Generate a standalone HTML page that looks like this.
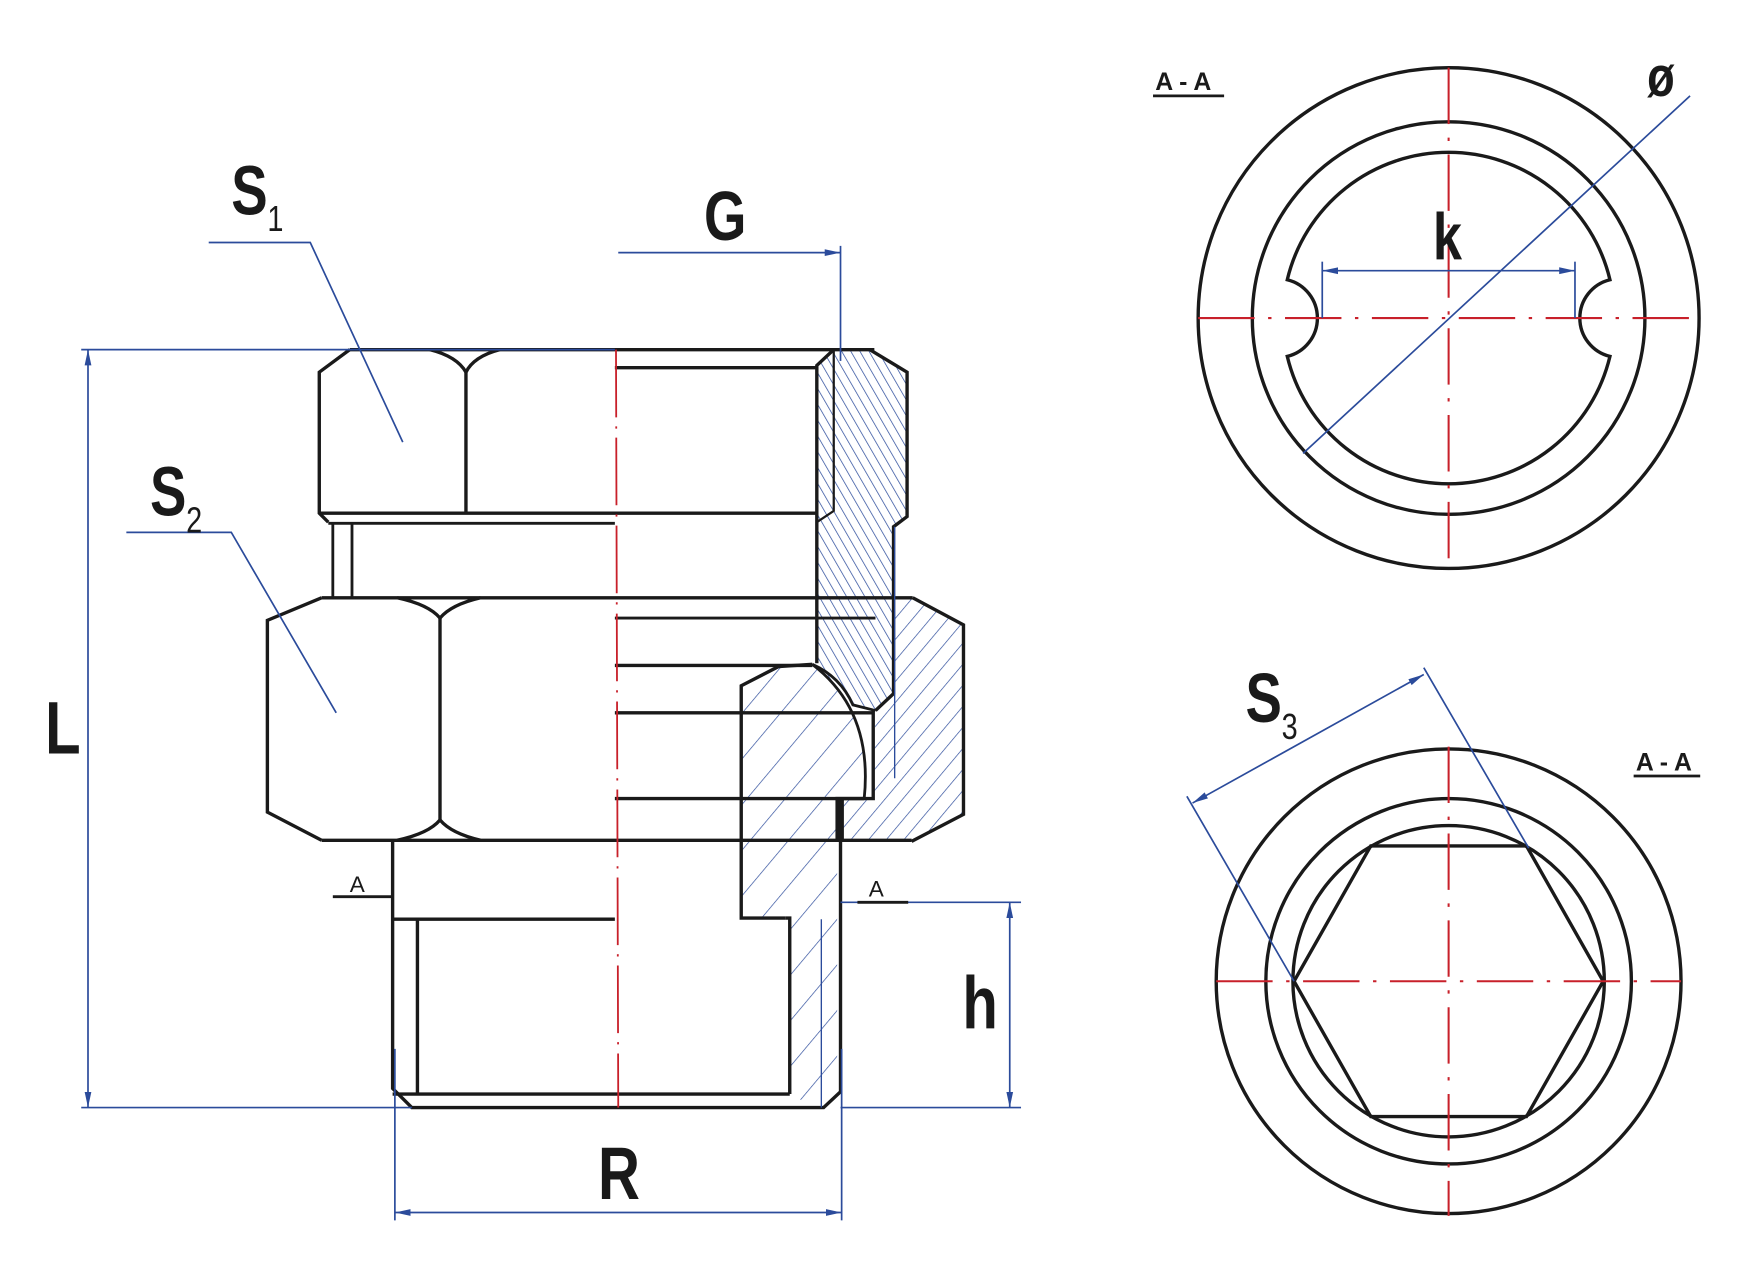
<!DOCTYPE html>
<html><head><meta charset="utf-8"><style>
html,body{margin:0;padding:0;background:#fff;}
svg{display:block;}
text{font-family:"Liberation Sans Narrow","Liberation Sans",sans-serif;font-weight:bold;fill:#1a1a1a;}
</style></head><body>
<svg width="1760" height="1270" viewBox="0 0 1560 1126" preserveAspectRatio="none" xmlns="http://www.w3.org/2000/svg">
<defs>
<pattern id="hA" patternUnits="userSpaceOnUse" width="7" height="7" patternTransform="rotate(-30)"><line x1="0" y1="0" x2="0" y2="7" stroke="#2b4b9b" stroke-width="1.3"/></pattern>
<pattern id="hB" patternUnits="userSpaceOnUse" width="12" height="12" patternTransform="rotate(40)"><line x1="0" y1="0" x2="0" y2="12" stroke="#2b4b9b" stroke-width="1.2"/></pattern>
<pattern id="hC" patternUnits="userSpaceOnUse" width="26" height="26" patternTransform="rotate(40)"><line x1="0" y1="0" x2="0" y2="26" stroke="#2b4b9b" stroke-width="1.2"/></pattern>
<marker id="ar" markerWidth="14" markerHeight="8" refX="14" refY="4" orient="auto" markerUnits="userSpaceOnUse"><path d="M0,1 L14,4 L0,7 Z" fill="#2b4b9b"/></marker>
<marker id="al" markerWidth="14" markerHeight="8" refX="0" refY="4" orient="auto" markerUnits="userSpaceOnUse"><path d="M14,1 L0,4 L14,7 Z" fill="#2b4b9b"/></marker>
</defs>

<path d="M809,530 L854,554 L854,722 L808,746 L742,746 L742,708 L774,708 L776,630 L792,615 L792,530 Z" fill="url(#hB)"/>
<path d="M724,324 L739,310 L771,310 L804,330 L804,458 L792,467 L792,615 L776,630 L756,625 L720,589 L724,588 Z" fill="url(#hA)"/>
<path d="M657,608 L690,591 L720,589 Q774,630 766,708 L742,708 L742,975 L700,975 L700,814 L657,814 Z" fill="url(#hC)"/>

<g fill="none" stroke="#1a1a1a" stroke-width="3" stroke-linejoin="miter">
<path d="M310,310 L283,330 L283,455 L291,463"/>
<line x1="310" y1="310" x2="775" y2="310"/>
<line x1="413" y1="330" x2="413" y2="455"/>
<path d="M381,310 Q405,316 413,330 Q420,316 443,310"/>
<line x1="283" y1="455" x2="724" y2="455"/>
<line x1="291" y1="464" x2="545" y2="464" stroke-width="2.5"/>
<line x1="295" y1="464" x2="295" y2="530" stroke-width="2.5"/>
<line x1="312" y1="464" x2="312" y2="530" stroke-width="2.5"/>
<path d="M739,310 L724,324 L724,588"/>
<line x1="545" y1="326" x2="724" y2="326"/>
<path d="M771,310 L804,330 L804,458 L792,467 L792,615 L776,630"/>
<path d="M739,310 L739,453 L724,463" stroke-width="2"/>
<path d="M720,589 Q745,600 756,625 L776,630" stroke-width="2.5"/>
<path d="M285,530 L237,550 L237,720 L285,745"/>
<line x1="285" y1="530" x2="809" y2="530"/>
<path d="M809,530 L854,554 L854,722 L808,746"/>
<line x1="390" y1="548" x2="390" y2="727"/>
<path d="M352,530 Q380,536 390,548 Q400,536 426,530"/>
<path d="M352,745 Q380,739 390,727 Q400,739 426,745"/>
<line x1="285" y1="745" x2="808" y2="745"/>
<line x1="545" y1="548" x2="776" y2="548" stroke-width="2.5"/>
<line x1="545" y1="590" x2="720" y2="590"/>
<line x1="545" y1="632" x2="774" y2="632"/>
<line x1="545" y1="708" x2="766" y2="708"/>
<path d="M696,814 L657,814 L657,608 L690,591 L720,589"/>
<path d="M720,589 Q774,630 766,708" stroke-width="2.5"/>
<path d="M774,630 L774,708 L742,708 L742,746" />
<rect x="742" y="708" width="6" height="38" fill="#1a1a1a" stroke="none"/>
<line x1="793" y1="467" x2="793" y2="690" stroke="#2b4b9b" stroke-width="1.2"/>
<path d="M348,745 L348,965 L365,982 L730,982 L745,968 L745,745"/>
<line x1="370" y1="815" x2="370" y2="970"/>
<line x1="348" y1="815" x2="545" y2="815"/>
<line x1="348" y1="970" x2="700" y2="970"/>
<path d="M696,814 L700,814 L700,970"/>
<line x1="728" y1="815" x2="728" y2="982" stroke="#2b4b9b" stroke-width="1.2"/>
</g>

<line x1="546" y1="310" x2="548" y2="982" stroke="#c8202a" stroke-width="1.6" stroke-dasharray="60,8,2,8"/>

<g stroke="#2b4b9b" stroke-width="1.5" fill="none">
<line x1="72" y1="310" x2="545" y2="310"/>
<line x1="72" y1="982" x2="365" y2="982"/>
<line x1="78" y1="310" x2="78" y2="982" marker-start="url(#al)" marker-end="url(#ar)"/>
<line x1="548" y1="224" x2="745" y2="224" marker-end="url(#ar)"/>
<line x1="745" y1="218" x2="745" y2="320"/>
<line x1="350" y1="930" x2="350" y2="1082"/>
<line x1="746" y1="930" x2="746" y2="1082"/>
<line x1="350" y1="1075" x2="746" y2="1075" marker-start="url(#al)" marker-end="url(#ar)"/>
<line x1="745" y1="800" x2="905" y2="800"/>
<line x1="745" y1="982" x2="905" y2="982"/>
<line x1="895" y1="800" x2="895" y2="982" marker-start="url(#al)" marker-end="url(#ar)"/>
<polyline points="185,215 275,215 357,392"/>
<polyline points="112,472 205,472 298,632"/>
</g>
<g stroke="#1a1a1a" stroke-width="2.5">
<line x1="295" y1="795" x2="348" y2="795"/>
<line x1="760" y1="800" x2="805" y2="800"/>
</g>
<text x="310" y="791" font-size="20" style="font-weight:normal">A</text>
<text x="770" y="795" font-size="20" style="font-weight:normal">A</text>

<text transform="translate(205,190) scale(0.78,1)" font-size="62">S</text><text transform="translate(237,205) scale(0.8,1)" font-size="32" style="font-weight:normal">1</text>
<text transform="translate(133,457) scale(0.78,1)" font-size="62">S</text><text transform="translate(165,472) scale(0.8,1)" font-size="32" style="font-weight:normal">2</text>
<text transform="translate(624,213) scale(0.78,1)" font-size="62">G</text>
<text transform="translate(40,668) scale(0.78,1)" font-size="66">L</text>
<text transform="translate(530,1063) scale(0.78,1)" font-size="66">R</text>
<text transform="translate(853,912) scale(0.78,1)" font-size="66">h</text>

<g fill="none" stroke="#1a1a1a" stroke-width="3">
<circle cx="1284" cy="282" r="222"/>
<circle cx="1284" cy="282" r="174"/>
<path d="M1141,248 A35,35 0 0 1 1141,316 A147,147 0 0 0 1427,316 A35,35 0 0 1 1427,248 A147,147 0 0 0 1141,248 Z"/>
</g>
<g stroke="#c8202a" stroke-width="1.8" stroke-dasharray="50,12,3,12">
<line x1="1062" y1="282" x2="1506" y2="282"/>
<line x1="1284" y1="60" x2="1284" y2="504"/>
</g>
<g stroke="#2b4b9b" stroke-width="1.5" fill="none">
<line x1="1172" y1="240" x2="1396" y2="240" marker-start="url(#al)" marker-end="url(#ar)"/>
<line x1="1172" y1="232" x2="1172" y2="282"/>
<line x1="1396" y1="232" x2="1396" y2="282"/>
<line x1="1155" y1="402" x2="1498" y2="85"/>
</g>
<text transform="translate(1270,230) scale(0.8,1)" font-size="58">k</text>
<text transform="translate(1460,85) scale(0.8,1)" font-size="50">ø</text>
<text x="1024" y="80" font-size="22">A - A</text>
<line x1="1022" y1="85" x2="1085" y2="85" stroke="#1a1a1a" stroke-width="2.5"/>

<g fill="none" stroke="#1a1a1a" stroke-width="3">
<circle cx="1284" cy="870" r="206"/>
<circle cx="1284" cy="870" r="162"/>
<circle cx="1284" cy="870" r="138"/>
<polygon points="1147,870 1215,750 1353,750 1421,870 1353,990 1215,990"/>
</g>
<g stroke="#c8202a" stroke-width="1.8" stroke-dasharray="50,12,3,12">
<line x1="1078" y1="870" x2="1490" y2="870"/>
<line x1="1284" y1="662" x2="1284" y2="1078"/>
</g>
<g stroke="#2b4b9b" stroke-width="1.5" fill="none">
<line x1="1057" y1="712" x2="1262" y2="598" marker-start="url(#al)" marker-end="url(#ar)"/>
<line x1="1262" y1="592" x2="1355" y2="752"/>
<line x1="1052" y1="706" x2="1147" y2="870"/>
</g>
<text transform="translate(1104,640) scale(0.78,1)" font-size="62">S</text><text transform="translate(1136,655) scale(0.8,1)" font-size="32" style="font-weight:normal">3</text>
<text x="1450" y="683" font-size="22">A - A</text>
<line x1="1448" y1="688" x2="1507" y2="688" stroke="#1a1a1a" stroke-width="2.5"/>
</svg>
</body></html>
